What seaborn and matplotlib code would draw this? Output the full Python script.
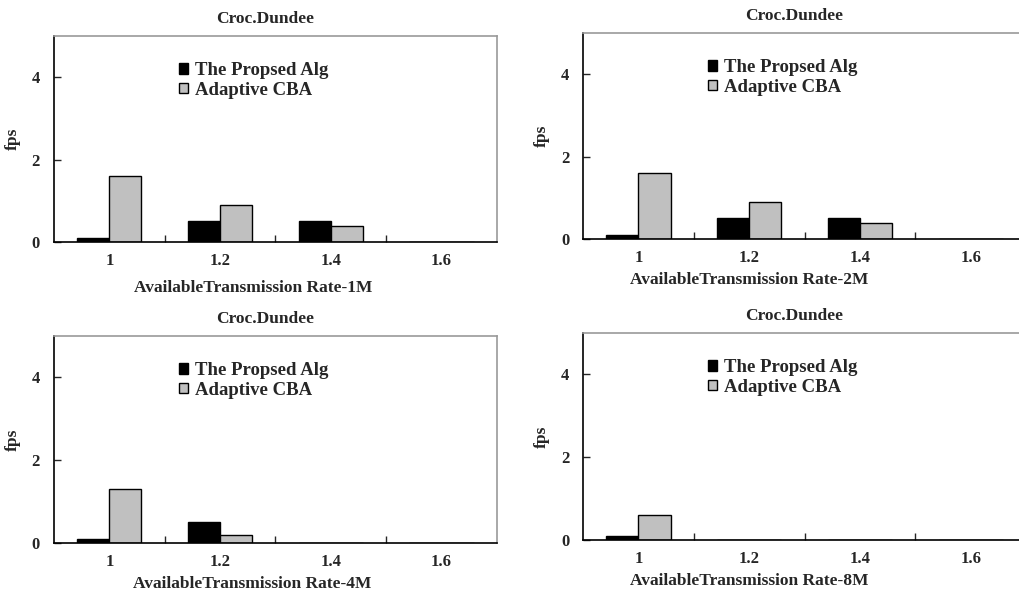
import pandas as pd
import numpy as np
import matplotlib
matplotlib.use('Agg')
import matplotlib.pyplot as plt
import seaborn as sns

rates = ['1', '1.2', '1.4', '1.6']
algs = ['The Propsed Alg', 'Adaptive CBA']
panel_labels = ['AvailableTransmission Rate-1M', 'AvailableTransmission Rate-2M',
                'AvailableTransmission Rate-4M', 'AvailableTransmission Rate-8M']
title = 'Croc.Dundee'

proposed_1m = [0.1, 0.5, 0.5, 0.0]
cba_1m = [1.6, 0.9, 0.4, 0.0]
proposed_2m = [0.1, 0.5, 0.5, 0.0]
cba_2m = [1.6, 0.9, 0.4, 0.0]
proposed_4m = [0.1, 0.5, 0.0, 0.0]
cba_4m = [1.3, 0.2, 0.0, 0.0]
proposed_8m = [0.1, 0.0, 0.0, 0.0]
cba_8m = [0.6, 0.0, 0.0, 0.0]

panels = [(proposed_1m, cba_1m), (proposed_2m, cba_2m),
          (proposed_4m, cba_4m), (proposed_8m, cba_8m)]

sns.set_style('ticks')
plt.rcParams['font.family'] = ['Liberation Serif', 'DejaVu Serif']
plt.rcParams['font.weight'] = 'bold'
plt.rcParams['axes.labelweight'] = 'bold'
plt.rcParams['axes.titleweight'] = 'bold'

fig = plt.figure(figsize=(10.2, 5.92), dpi=100)

# axes boxes in figure fraction (the right column runs past the edge, like the source)
boxes = [[0.0529, 0.5912, 0.4343, 0.348],
         [0.5716, 0.5963, 0.4343, 0.348],
         [0.0529, 0.0828, 0.4343, 0.3497],
         [0.5716, 0.0878, 0.4343, 0.3497]]
xlab_x = [0.449, 0.375, 0.447, 0.375]
xlab_pad = [7.5, 4.5, 4.0, 4.5]

for i, (prop, cba) in enumerate(panels):
    ax = fig.add_axes(boxes[i])
    df = pd.DataFrame({
        'rate': rates * 2,
        'fps': prop + cba,
        'alg': [algs[0]] * 4 + [algs[1]] * 4,
    })
    sns.barplot(data=df, x='rate', y='fps', hue='alg', order=rates, hue_order=algs,
                palette=['black', '#c0c0c0'], width=0.58, edgecolor='black',
                linewidth=1.0, errorbar=None, ax=ax)

    ax.set_xlim(-0.5, 3.5)
    ax.set_ylim(0, 5)
    ax.set_yticks([0, 2, 4])
    ax.set_xticks(np.arange(0.5, 3, 1.0), minor=True)
    ax.tick_params(axis='x', which='major', length=0, pad=8, labelsize=12)
    ax.tick_params(axis='x', which='minor', direction='in', length=5, width=1)
    ax.tick_params(axis='y', direction='in', length=5, width=1, pad=10, labelsize=12)

    for s in ['top', 'right']:
        ax.spines[s].set_color('#999999')
        ax.spines[s].set_linewidth(1.2)
    for s in ['left', 'bottom']:
        ax.spines[s].set_color('black')
        ax.spines[s].set_linewidth(1.2)

    ax.set_title(title, fontsize=12.5, pad=9, x=0.477)
    ax.set_xlabel(panel_labels[i], fontsize=12.5, labelpad=xlab_pad[i])
    ax.xaxis.label.set_x(xlab_x[i])
    ax.set_ylabel('fps', fontsize=12.5, labelpad=8)

    ax.legend(loc='upper left', bbox_to_anchor=(0.26, 0.92), frameon=False,
              fontsize=13.5, borderpad=0, handlelength=0.5, handleheight=0.5,
              handletextpad=0.4, labelspacing=0.15)

fig.savefig('out.png', dpi=100)
